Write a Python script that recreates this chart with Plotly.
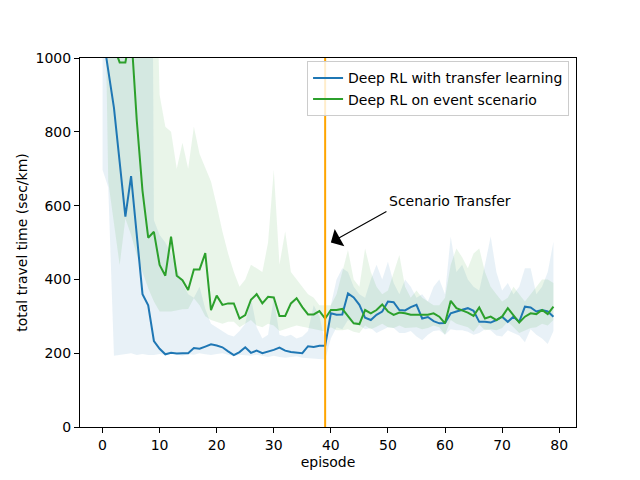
import plotly.graph_objects as go

episodes = list(range(80))

blue_mean = [1068, 961, 865, 718, 570, 680, 520, 360, 330, 233,
             212, 197, 201, 199, 200, 200, 214, 212, 218, 224,
             221, 216, 205, 195, 203, 216, 201, 207, 200, 204,
             209, 215, 207, 203, 201, 200, 219, 217, 220, 220,
             308, 304, 305, 362, 351, 331, 296, 290, 304, 313,
             340, 338, 317, 316, 325, 331, 294, 298, 287, 281,
             282, 308, 313, 318, 322, 315, 285, 285, 283, 290,
             299, 285, 299, 285, 326, 324, 313, 317, 313, 299]

green_mean = [1100, 1060, 1030, 988, 988, 1073, 830, 640, 513, 529,
              439, 410, 516, 410, 398, 371, 427, 427, 471, 317,
              356, 331, 335, 335, 294, 303, 345, 360, 335, 353,
              351, 301, 301, 335, 349, 325, 305, 305, 314, 294,
              317, 317, 320, 299, 281, 279, 317, 308, 317, 332,
              313, 304, 310, 308, 304, 304, 304, 304, 308, 299,
              281, 342, 322, 317, 310, 301, 324, 294, 299, 290,
              299, 322, 304, 283, 299, 308, 306, 317, 306, 326]

blue_upper = [2000, 2000, 2000, 2000, 2000, 2000, 2000, 2000, 3500, 560,
              520, 500, 470, 430, 390, 360, 350, 380, 320, 280,
              270, 260, 250, 245, 260, 280, 350, 270, 240, 250,
              350, 250, 245, 250, 240, 245, 260, 330, 300, 230,
              330, 400, 430, 420, 380, 360, 350, 400, 440, 400,
              448, 390, 360, 400, 380, 350, 360, 340, 380, 400,
              360, 516, 420, 440, 400, 380, 370, 440, 516, 420,
              370, 390, 360, 380, 430, 430, 360, 380, 420, 502]

blue_lower = [697, 650, 193, 195, 197, 200, 195, 198, 195, 195,
              198, 196, 200, 197, 193, 198, 196, 200, 197, 195,
              198, 200, 195, 192, 196, 195, 193, 196, 192, 190,
              193, 190, 188, 190, 192, 188, 186, 185, 184, 183,
              240, 270, 265, 290, 280, 275, 265, 268, 255, 262,
              270, 268, 255, 255, 260, 245, 235, 250, 260, 262,
              250, 265, 262, 262, 258, 250, 255, 265, 262, 248,
              245, 262, 255, 248, 230, 265, 250, 240, 225, 260]

green_upper = [2000, 2000, 2000, 2000, 2000, 2000, 2000, 2000, 2000, 1500,
               900, 814, 800, 700, 770, 700, 814, 740, 700, 665,
               600, 530, 470, 420, 380, 400, 440, 430, 420, 500,
               697, 440, 530, 420, 400, 380, 360, 350, 330, 330,
               330, 360, 420, 480, 400, 380, 484, 420, 380, 360,
               370, 420, 466, 380, 350, 370, 350, 340, 330, 330,
               350, 440, 484, 460, 430, 470, 484, 420, 380, 360,
               340, 350, 380, 360, 340, 360, 380, 400, 400, 390]

green_lower = [1600, 665, 550, 439, 565, 520, 466, 420, 376, 340,
               313, 313, 313, 315, 319, 320, 349, 330, 300, 290,
               285, 280, 285, 285, 270, 280, 290, 275, 270, 280,
               275, 260, 265, 270, 275, 270, 268, 265, 262, 258,
               270, 262, 262, 265, 258, 255, 275, 265, 272, 280,
               270, 268, 275, 268, 270, 270, 265, 268, 275, 270,
               250, 290, 280, 275, 270, 258, 278, 262, 265, 262,
               268, 285, 270, 255, 262, 268, 270, 280, 275, 290]

x_ticks = [0, 10, 20, 30, 40, 50, 60, 70, 80]
y_ticks = [0, 200, 400, 600, 800, 1000]

BLUE = "#1f77b4"
GREEN = "#2ca02c"
FONT = "DejaVu Sans"

fig = go.Figure()

def band(upper, lower, rgb):
    fig.add_trace(go.Scatter(
        x=episodes + episodes[::-1], y=upper + lower[::-1],
        fill="toself", fillcolor=f"rgba({rgb},0.1)",
        line=dict(width=0), mode="lines", hoverinfo="skip", showlegend=False))

band(blue_upper, blue_lower, "31,119,180")
band(green_upper, green_lower, "44,160,44")

fig.add_trace(go.Scatter(x=episodes, y=blue_mean, mode="lines",
                         line=dict(color=BLUE, width=2),
                         name="Deep RL with transfer learning"))
fig.add_trace(go.Scatter(x=episodes, y=green_mean, mode="lines",
                         line=dict(color=GREEN, width=2),
                         name="Deep RL on event scenario"))

fig.add_shape(type="line", x0=39, x1=39, xref="x", y0=0, y1=1, yref="paper",
              line=dict(color="orange", width=2))

fig.add_annotation(x=40, y=500, ax=50, ay=586, xref="x", yref="y",
                   axref="x", ayref="y", text="", showarrow=True,
                   arrowhead=1, arrowsize=3, arrowwidth=1.1, arrowcolor="black")
fig.add_annotation(x=49.9, y=612, xref="x", yref="y", text="Scenario Transfer",
                   showarrow=False, xanchor="left", yanchor="middle",
                   font=dict(family=FONT, size=14, color="black"))

axis_common = dict(showline=True, linecolor="black", linewidth=1, mirror=True,
                   ticks="outside", ticklen=5, tickcolor="black", showgrid=False,
                   zeroline=False, tickfont=dict(family=FONT, size=14, color="black"))

fig.update_xaxes(range=[-3.95, 82.95], tickvals=x_ticks,
                 title=dict(text="episode", font=dict(family=FONT, size=14, color="black"), standoff=5),
                 **axis_common)
fig.update_yaxes(range=[0, 1000], tickvals=y_ticks,
                 title=dict(text="total travel time (sec/km)", font=dict(family=FONT, size=14, color="black"), standoff=4),
                 **axis_common)

fig.update_layout(
    width=640, height=480,
    margin=dict(l=80, r=64, t=58, b=53),
    paper_bgcolor="white", plot_bgcolor="white",
    font=dict(family=FONT, size=14, color="black"),
    legend=dict(x=0.986, y=0.991, xanchor="right", yanchor="top",
                bgcolor="rgba(255,255,255,0.8)", bordercolor="#cccccc", borderwidth=1,
                font=dict(family=FONT, size=14, color="black")),
)

fig.write_html("out.html")
